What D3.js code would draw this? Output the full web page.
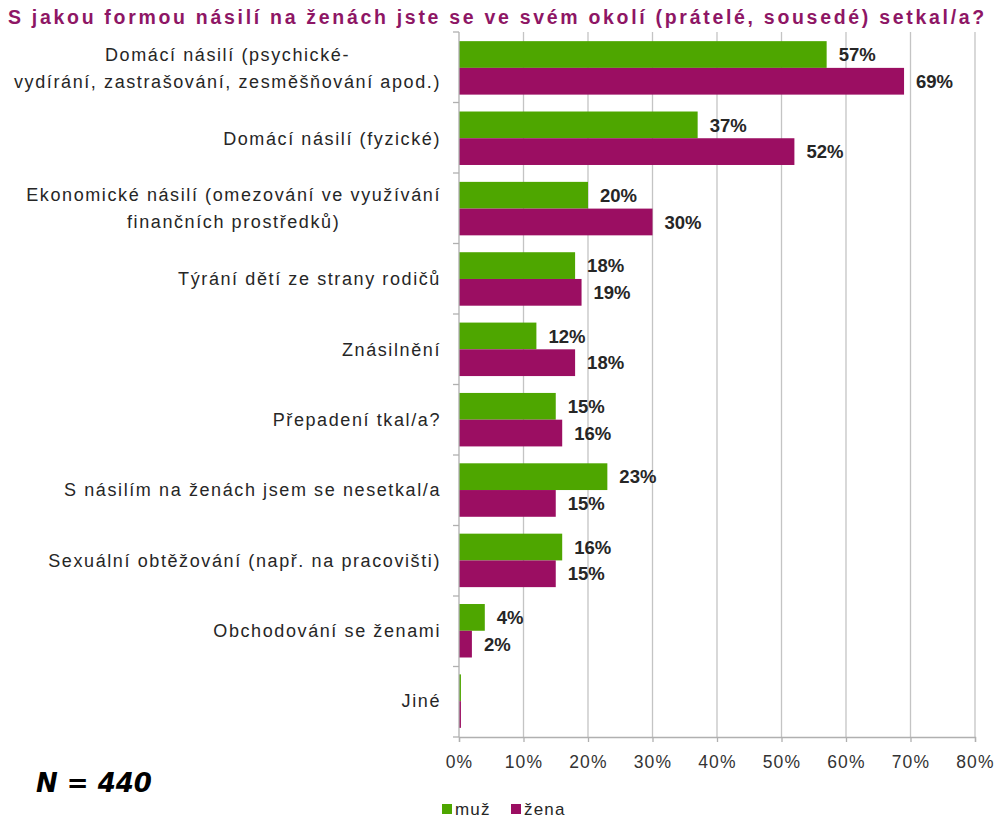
<!DOCTYPE html>
<html><head><meta charset="utf-8">
<script src="https://cdn.jsdelivr.net/npm/d3@7/dist/d3.min.js"></script>
<style>body{margin:0;background:#fff}svg{display:block}</style>
</head><body><svg id="c" width="998" height="820"></svg>
<script>
const categories = [
  ["Domácí násilí (psychické-", "vydírání, zastrašování, zesměšňování apod.)"],
  ["Domácí násilí (fyzické)"],
  ["Ekonomické násilí (omezování ve využívání", "finančních prostředků)"],
  ["Týrání dětí ze strany rodičů"],
  ["Znásilnění"],
  ["Přepadení tkal/a?"],
  ["S násilím na ženách jsem se nesetkal/a"],
  ["Sexuální obtěžování (např. na pracovišti)"],
  ["Obchodování se ženami"],
  ["Jiné"]
];
const muz  = [57, 37, 20, 18, 12, 15, 23, 16, 4, 0.3];
const zena = [69, 52, 30, 19, 18, 16, 15, 15, 2, 0.3];
const muzLabels  = ["57%","37%","20%","18%","12%","15%","23%","16%","4%",""];
const zenaLabels = ["69%","52%","30%","19%","18%","16%","15%","15%","2%",""];
const ticks = [0,10,20,30,40,50,60,70,80];
const seriesNames = ["muž","žena"];
const colors = ["#4ea600","#9b0e62"];

(function(){
const svg = d3.select("#c");
const FF = "Liberation Sans, Arial, sans-serif";
const pl = 459, pr = 975, pt = 32, pb = 737;
const x = d3.scaleLinear().domain([0,80]).range([pl,pr]);
const y = d3.scaleBand().domain(d3.range(categories.length)).range([pt,pb]).paddingInner(0.24).paddingOuter(0.13);
const sub = d3.scaleBand().domain([0,1]).range([0,y.bandwidth()]);

svg.append("g").selectAll("line").data(ticks.slice(1)).join("line")
  .attr("x1",d=>x(d)).attr("x2",d=>x(d)).attr("y1",pt).attr("y2",pb)
  .attr("stroke","#c4c4c4").attr("stroke-width",1.3);

const series = [muz, zena];
const labels = [muzLabels, zenaLabels];
series.forEach((vals, s) => {
  svg.append("g").selectAll("rect").data(vals).join("rect")
    .attr("x", x(0)).attr("y",(d,i)=>y(i)+sub(s)).attr("width",d=>x(d)-x(0))
    .attr("height",sub.bandwidth()).attr("fill",colors[s]);
  svg.append("g").selectAll("text").data(vals).join("text")
    .attr("x",d=>x(d)+12).attr("y",(d,i)=>y(i)+sub(s)+sub.bandwidth()/2)
    .attr("dy","0.36em").attr("font-family",FF)
    .attr("font-size",18.5).attr("font-weight","bold").attr("fill","#262626")
    .text((d,i)=>labels[s][i]);
});

const yAxis = svg.append("g");
yAxis.append("line").attr("x1",pl).attr("x2",pl).attr("y1",pt).attr("y2",pb).attr("stroke","#b0b0b0").attr("stroke-width",1.3);
const bounds = d3.range(categories.length+1).map(i => pt + i*(pb-pt)/categories.length);
yAxis.selectAll("line.t").data(bounds).join("line").attr("class","t")
  .attr("x1",pl-6).attr("x2",pl).attr("y1",d=>d).attr("y2",d=>d).attr("stroke","#b0b0b0").attr("stroke-width",1.3);

const xAxis = svg.append("g").attr("transform",`translate(0,${pb})`)
  .call(d3.axisBottom(x).tickValues(ticks).tickFormat(d=>d+"%").tickSize(5).tickPadding(14));
xAxis.select(".domain").attr("stroke","#b0b0b0").attr("stroke-width",1.3);
xAxis.selectAll(".tick line").attr("stroke","#b0b0b0").attr("stroke-width",1.3);
xAxis.selectAll("text").attr("font-family",FF).attr("font-size",17.5).attr("letter-spacing","1.2px").attr("fill","#333");

categories.forEach((lines,i) => {
  const g = svg.append("g");
  const cy = y(i)+y.bandwidth()/2;
  const lh = 27;
  const texts = lines.map((l,j)=> g.append("text").attr("y", cy + (j-(lines.length-1)/2)*lh).attr("dy","0.35em")
      .attr("font-family",FF).attr("font-size",18).attr("letter-spacing","1.6px").attr("fill","#262626").text(l));
  const maxW = d3.max(texts, t=>t.node().getComputedTextLength());
  const cx = 441 - maxW/2;
  texts.forEach(t=>t.attr("x",cx).attr("text-anchor","middle"));
});

svg.append("text").attr("x",8).attr("y",24).attr("font-family",FF)
  .attr("font-size",19.5).attr("font-weight","bold").attr("letter-spacing","2.7px").attr("fill","#8e1665")
  .text("S jakou formou násilí na ženách jste se ve svém okolí (prátelé, sousedé) setkal/a?");

svg.append("text").attr("x",36).attr("y",792).attr("font-family","DejaVu Sans, Verdana, sans-serif")
  .attr("font-size",26).attr("font-weight","bold").attr("font-style","italic").attr("fill","#000").text("N = 440");

const lg = svg.append("g").attr("transform","translate(442,815)");
const lx = [0, 69];
seriesNames.forEach((n,s)=>{
  lg.append("rect").attr("x",lx[s]).attr("y",-11).attr("width",10).attr("height",10).attr("fill",colors[s]);
  lg.append("text").attr("x",lx[s]+13).attr("y",0).attr("font-family",FF)
    .attr("font-size",17).attr("letter-spacing","1.2px").attr("fill","#262626").text(n);
});
})();
</script></body></html>
